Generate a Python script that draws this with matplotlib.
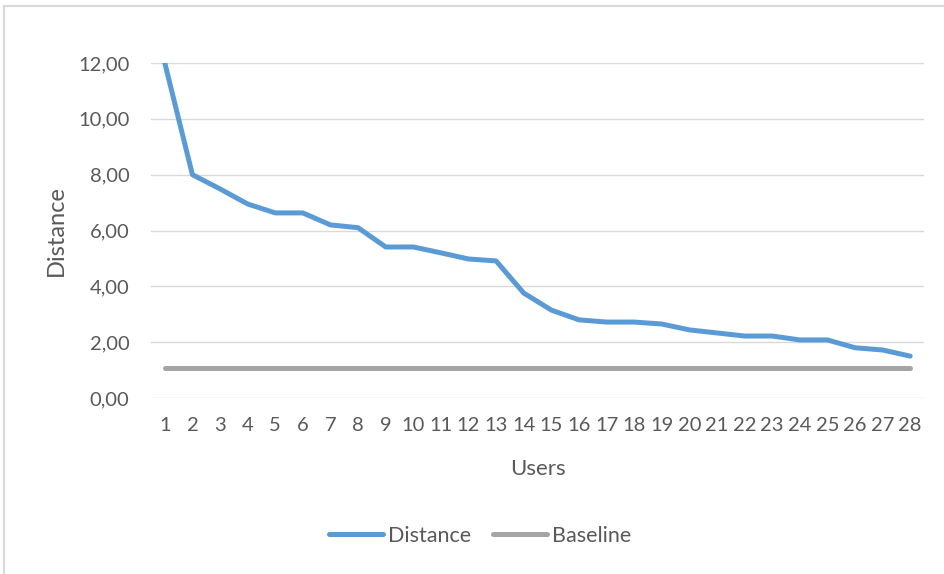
import matplotlib.pyplot as plt
from matplotlib.lines import Line2D
from matplotlib.ticker import FuncFormatter, MultipleLocator

users = list(range(1, 29))
distance = [12.0, 8.0, 7.49, 6.95, 6.63, 6.63, 6.2, 6.1, 5.41, 5.41,
            5.2, 4.98, 4.91, 3.76, 3.15, 2.8, 2.72, 2.72, 2.65, 2.44,
            2.33, 2.22, 2.22, 2.08, 2.08, 1.8, 1.72, 1.5]
baseline = [1.07] * 28

plt.rcParams['font.family'] = ['Lato', 'DejaVu Sans']
txt = '#595959'

fig = plt.figure(figsize=(9.45, 5.74), dpi=100)
ax = fig.add_axes([151 / 945, 1 - 398 / 574, (924 - 151) / 945, (398 - 63) / 574])

ax.plot(users, distance, color='#5b9bd5', lw=3.6, solid_capstyle='round',
        solid_joinstyle='round', label='Distance', zorder=3)
ax.plot(users, baseline, color='#a5a5a5', lw=3.6, solid_capstyle='round',
        label='Baseline', zorder=3)

ax.set_xlim(0.5, 28.5)
ax.set_ylim(0, 12)
ax.yaxis.set_major_locator(MultipleLocator(2))
ax.yaxis.set_major_formatter(FuncFormatter(lambda v, p: f'{v:.2f}'.replace('.', ',')))
ax.set_xticks(users)
ax.grid(axis='y', color='#d9d9d9', lw=1)
ax.set_axisbelow(True)
for s in ax.spines.values():
    s.set_visible(False)
ax.tick_params(length=0, labelsize=14.5, colors=txt)
ax.tick_params(axis='y', pad=15.5)
ax.tick_params(axis='x', pad=14)

ax.set_xlabel('Users', fontsize=16, color=txt, labelpad=18)
ax.set_ylabel('Distance', fontsize=17, color=txt, labelpad=8)

fig.legend(loc='center', bbox_to_anchor=(480 / 945, 1 - 536 / 574), ncol=2, frameon=False,
           fontsize=15.5, labelcolor=txt, handlelength=2.5, handletextpad=0.25, columnspacing=1.0)

fig.add_artist(Line2D([4 / 945, 1], [1 - 6 / 574, 1 - 6 / 574], color='#d9d9d9', lw=1.5))
fig.add_artist(Line2D([4 / 945, 4 / 945], [0, 1 - 6 / 574], color='#d9d9d9', lw=1.5))

fig.savefig('out.png', dpi=100)
